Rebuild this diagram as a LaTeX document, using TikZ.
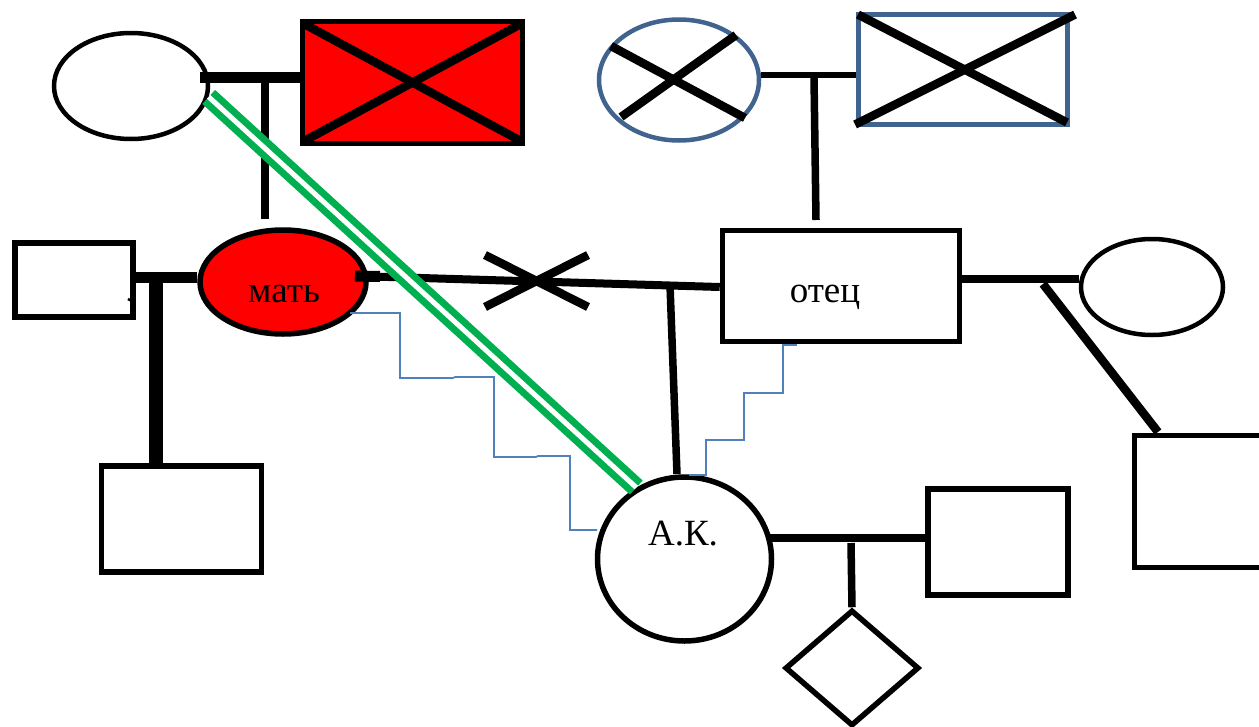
\documentclass[tikz,border=0pt]{standalone}
\usepackage{fontspec}
\setmainfont{Liberation Serif}
\usetikzlibrary{shapes.geometric,calc}
\definecolor{pred}{HTML}{FF0000}
\definecolor{pgreen}{HTML}{00B050}
\definecolor{pblue}{HTML}{41648F}
\definecolor{lblue}{HTML}{4F81BD}
\begin{document}
\begin{tikzpicture}[x=1pt,y=-1pt,
  fem/.style={ellipse, draw, line width=4.5pt, inner sep=0pt},
  male/.style={rectangle, draw, line width=5.5pt, inner sep=0pt},
  lbl/.style={font=\fontsize{37}{43}\selectfont, inner sep=0pt, anchor=base},
  link/.style={line width=7.5pt},
  crossline/.style={line width=8.5pt},
  kin/.style={draw=lblue, line width=1.6pt},
  tie/.style={draw=pgreen, line width=7pt, double=white, double distance=5pt}
]
\useasboundingbox (0,0) rectangle (1259,726);
\clip (0,0) rectangle (1259,726);

% nodes
\node[fem, minimum width=154pt, minimum height=106pt] (gm) at (131,86) {};
\node[male, fill=pred, minimum width=220pt, minimum height=122pt] (gf) at (412.5,82.5) {};
\node[fem, draw=pblue, minimum width=160pt, minimum height=121pt] (pgm) at (679,80) {};
\node[male, draw=pblue, minimum width=209pt, minimum height=110pt] (pgf) at (963,69.5) {};
\node[male, minimum width=118pt, minimum height=74pt] (unc) at (74,280) {};
\node[fem, line width=5.5pt, fill=pred, minimum width=166pt, minimum height=104pt] (mom) at (283,282) {};
\node[male, minimum width=160pt, minimum height=106pt] (cous) at (181.5,519) {};
\node[male, minimum width=237pt, minimum height=111pt] (dad) at (841,286) {};
\node[fem, minimum width=142pt, minimum height=96pt] (fw) at (1152,287) {};
\node[male, minimum width=128pt, minimum height=132pt] (hs) at (1198.5,501.5) {};
\node[fem, line width=5.5pt, minimum width=174pt, minimum height=164pt] (ak) at (684.5,559) {};
\node[male, minimum width=140pt, minimum height=106pt] (sp) at (998,542) {};
\node[diamond, draw, line width=5.5pt, inner sep=0pt, minimum width=134pt, minimum height=116pt] (ch) at (852,668) {};

% labels
\node[lbl] (momt) at (284,302) {мать};
\node[lbl] (dadt) at (825,302) {отец};
\node[lbl] (akt) at (683,545) {А.К.};

% crosses
\draw[crossline] ($(gf.north west)+(4,5)$) -- ($(gf.south east)+(-4,-5)$);
\draw[crossline] ($(gf.south west)+(4,-5)$) -- ($(gf.north east)+(-4,5)$);
\draw[crossline] ($(pgm)+(-68,-34)$) -- ($(pgm)+(66,38)$);
\draw[crossline] ($(pgm)+(-58,37)$) -- ($(pgm)+(57,-45)$);
\draw[crossline] ($(pgf)+(-105,-55)$) -- ($(pgf)+(104,53)$);
\draw[crossline] ($(pgf)+(-108,55)$) -- ($(pgf)+(112,-55)$);

% connectors
\coordinate (a1) at (200,77);
\draw[line width=11pt] (a1) -- (a1 -| gf.west);
\coordinate (a2) at (265,83);
\coordinate (a3) at (265,219);
\draw[link] (a2) -- (a3);

\coordinate (b1) at (pgm.east |- 0,75);
\draw[line width=6.5pt] (b1) -- (b1 -| pgf.west);
\coordinate (b2) at (814,77);
\coordinate (b3) at (816,220);
\draw[link] (b2) -- (b3);

\coordinate (c1) at (130,277);
\draw[line width=11pt] (c1) -- (c1 -| mom.west);
\coordinate (c2) at (156,283);
\draw[line width=14pt] (c2) -- (c2 |- cous.north);
\draw[line width=2.5pt] (132,287) -- (132,297) .. controls (132,301) and (129,301) .. (128,299);

\coordinate (d1) at (355,276);
\coordinate (d2) at (dad.west |- 0,287);
\draw[line width=8pt] (d1) -- (d2);
\draw[line width=11pt] (d1) -- (380,276.5);
\coordinate (x0) at (537,281);
\draw[crossline] ($(x0)+(-52,-26)$) -- ($(x0)+(51,26)$);
\draw[crossline] ($(x0)+(-52,26)$) -- ($(x0)+(51,-26)$);
\coordinate (d3) at (670,285);
\draw[link] (d3) -- (677,474);

\coordinate (e1) at (dad.east |- 0,279);
\draw[link] (e1) -- (e1 -| fw.west);
\coordinate (e2) at (1043,284);
\draw[crossline] (e2) -- (1158,432);

\coordinate (f1) at (768,538);
\draw[crossline] (f1) -- (f1 -| sp.west);
\coordinate (f2) at (851,543);
\draw[link] (f2) -- (ch.north);

% emotional ties
\draw[kin] (350,313) -- (400,313) -- (400,378) -- (453,378) -- (455,377) -- (494,377) -- (494,457) -- (536,457) -- (538,456) -- (570,456) -- (570,530) -- (597,530);
\draw[kin] (797,345) -- (783,345) -- (783,393) -- (744,393) -- (744,440) -- (706,440) -- (706,475) -- (689,475);
\draw[tie] (gm.-8) -- (ak.124);
\end{tikzpicture}
\end{document}
